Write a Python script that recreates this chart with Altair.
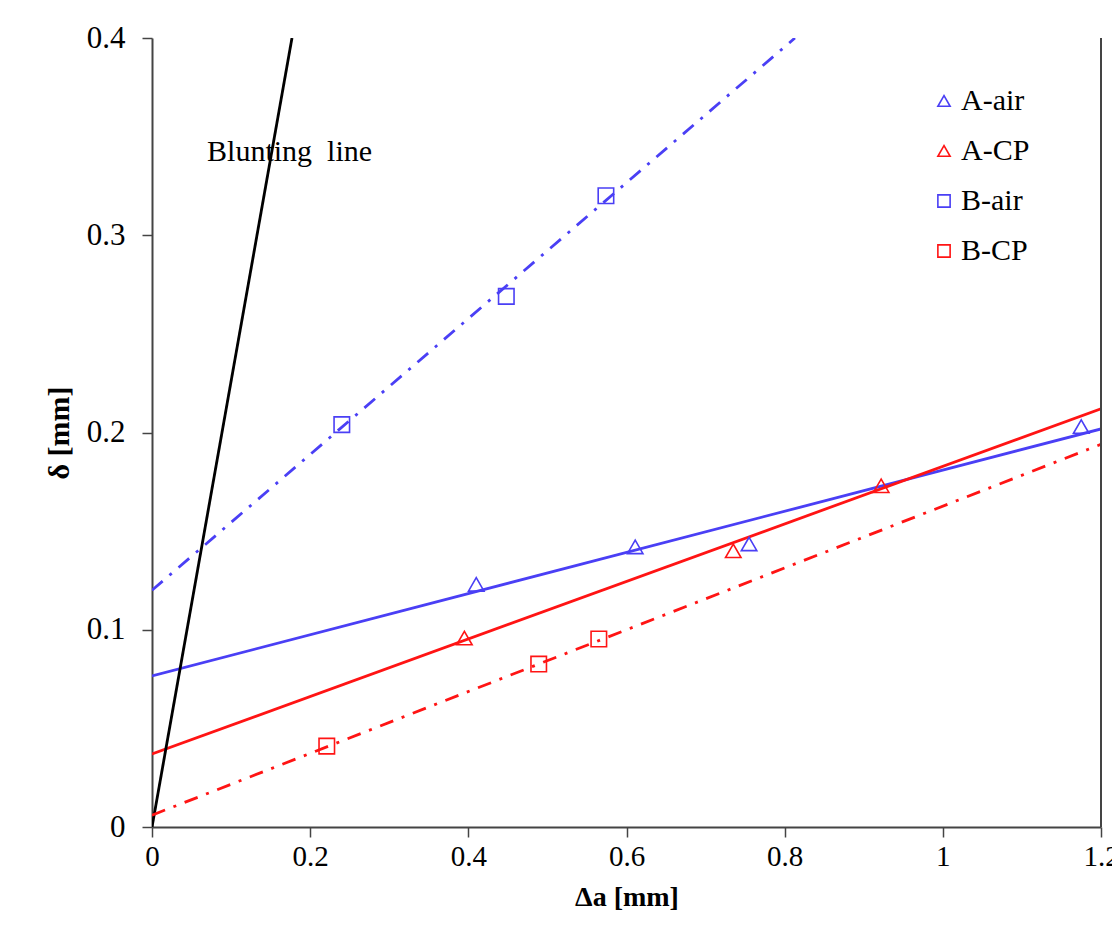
import altair as alt
import pandas as pd

# ---- data ----
series_names = ["A-air", "A-CP", "B-air", "B-CP"]

a_air_x = [0.410, 0.611, 0.755, 1.175]
a_air_y = [0.123, 0.142, 0.1435, 0.203]
a_cp_x = [0.395, 0.735, 0.922]
a_cp_y = [0.0958, 0.140, 0.173]
b_air_x = [0.240, 0.448, 0.574]
b_air_y = [0.204, 0.269, 0.320]
b_cp_x = [0.221, 0.489, 0.565]
b_cp_y = [0.041, 0.0826, 0.0953]

# fitted lines (end points)
fit_a_air_x = [0.0, 1.2]
fit_a_air_y = [0.0766, 0.2018]
fit_a_cp_x = [0.0, 1.2]
fit_a_cp_y = [0.037, 0.212]
fit_b_air_x = [0.0, 0.813]
fit_b_air_y = [0.120, 0.400]
fit_b_cp_x = [0.0, 1.2]
fit_b_cp_y = [0.006, 0.194]
blunt_x = [0.0, 0.177]
blunt_y = [0.0, 0.400]

x_ticks = [0, 0.2, 0.4, 0.6, 0.8, 1.0, 1.2]
y_ticks = [0, 0.1, 0.2, 0.3, 0.4]

BLUE = "#4a3ff5"
RED = "#ff1414"
FONT = "Liberation Serif"

pts = []
for name, xs, ys in [("A-air", a_air_x, a_air_y), ("A-CP", a_cp_x, a_cp_y),
                     ("B-air", b_air_x, b_air_y), ("B-CP", b_cp_x, b_cp_y)]:
    for xv, yv in zip(xs, ys):
        pts.append({"x": xv, "y": yv, "series": name})
pts = pd.DataFrame(pts)

solid = []
for name, xs, ys, col in [("A-air", fit_a_air_x, fit_a_air_y, BLUE),
                          ("A-CP", fit_a_cp_x, fit_a_cp_y, RED),
                          ("Blunting", blunt_x, blunt_y, "#000000")]:
    for xv, yv in zip(xs, ys):
        solid.append({"x": xv, "y": yv, "line": name, "col": col})
solid = pd.DataFrame(solid)

dashed = []
for name, xs, ys, col in [("B-air", fit_b_air_x, fit_b_air_y, BLUE),
                          ("B-CP", fit_b_cp_x, fit_b_cp_y, RED)]:
    for xv, yv in zip(xs, ys):
        dashed.append({"x": xv, "y": yv, "line": name, "col": col})
dashed = pd.DataFrame(dashed)

label_df = pd.DataFrame({"x": [0.0696], "y": [0.342], "t": ["Blunting\u00a0\u00a0line"]})

xscale = alt.Scale(domain=[0, 1.2], nice=False, zero=False)
yscale = alt.Scale(domain=[0, 0.4], nice=False, zero=False)

xaxis = alt.Axis(values=x_ticks, format="~g", title="Δa [mm]", grid=False,
                 tickSize=10, labelPadding=5, titlePadding=12,
                 labelFontSize=29, titleFontSize=28, titleFontWeight="bold",
                 labelFont=FONT, titleFont=FONT, labelColor="#000", titleColor="#000",
                 domainColor="#444", tickColor="#444", domainWidth=2, tickWidth=1.5,
                 labelFlush=False, labelOverlap=False)
yaxis = alt.Axis(values=y_ticks, format="~g", title="δ [mm]", grid=False,
                 tickSize=10, labelPadding=17, titlePadding=12,
                 labelFontSize=31, titleFontSize=30, titleFontWeight="bold",
                 labelFont=FONT, titleFont=FONT, labelColor="#000", titleColor="#000",
                 domainColor="#444", tickColor="#444", domainWidth=2, tickWidth=1.5,
                 labelFlush=False, labelOverlap=False)

base_x = alt.X("x:Q", scale=xscale, axis=xaxis)
base_y = alt.Y("y:Q", scale=yscale, axis=yaxis)

solid_layer = alt.Chart(solid).mark_line(strokeWidth=2.8, clip=True).encode(
    x=base_x, y=base_y,
    color=alt.Color("col:N", scale=None),
    detail="line:N",
)

dashed_layer = alt.Chart(dashed).mark_line(strokeWidth=2.8, clip=True,
                                           strokeDash=[14, 9, 3, 9]).encode(
    x=base_x, y=base_y,
    color=alt.Color("col:N", scale=None),
    detail="line:N",
)

legend_cfg = dict(title=None, orient="none", legendX=777, legendY=48,
                  labelFont=FONT, labelFontSize=30, labelColor="#000",
                  symbolSize=150, symbolStrokeWidth=1.6,
                  rowPadding=20, labelOffset=2)

points_layer = alt.Chart(pts).mark_point(filled=False, strokeWidth=1.6, size=240,
                                         opacity=1).encode(
    x=base_x, y=base_y,
    color=alt.Color("series:N",
                    scale=alt.Scale(domain=series_names, range=[BLUE, RED, BLUE, RED]),
                    legend=alt.Legend(**legend_cfg)),
    shape=alt.Shape("series:N",
                    scale=alt.Scale(domain=series_names,
                                    range=["triangle-up", "triangle-up", "square", "square"]),
                    legend=alt.Legend(**legend_cfg)),
)

text_layer = alt.Chart(label_df).mark_text(align="left", baseline="middle",
                                           font=FONT, fontSize=30, color="#000").encode(
    x=alt.X("x:Q", scale=xscale), y=alt.Y("y:Q", scale=yscale), text="t:N"
)

right_border = alt.Chart(label_df).mark_rule(color="#444", strokeWidth=2).encode(
    x=alt.value(949), y=alt.value(0), y2=alt.value(789)
)

chart = alt.layer(solid_layer, dashed_layer, points_layer, text_layer, right_border).properties(
    width=949, height=789,
    background="white",
    autosize=alt.AutoSizeParams(type="none"),
    padding={"left": 144, "top": 30, "right": 11, "bottom": 88},
).configure_view(strokeWidth=0, stroke="transparent")

chart.save("out.html", embed_options={"renderer": "svg", "actions": False})
